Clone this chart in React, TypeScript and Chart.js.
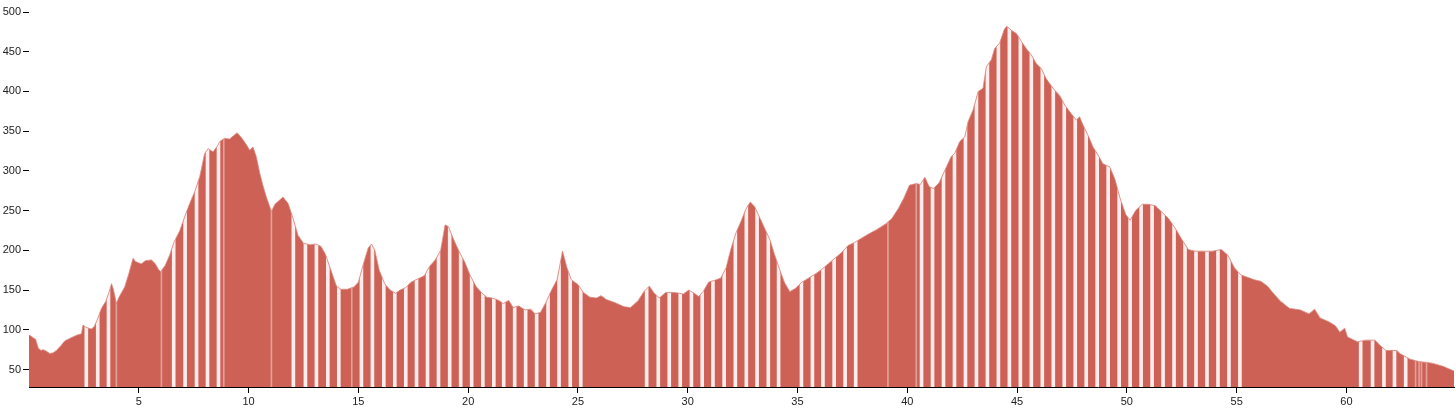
import React, { useEffect, useRef } from "react";
import { Chart, registerables } from "chart.js";

Chart.register(...registerables);

// Elevation profile (distance in km, elevation in m)
const distanceKm = [
  0.0, 0.1, 0.19, 0.3, 0.42, 0.55, 0.64, 0.8, 0.95, 1.1, 1.25, 1.45, 1.63, 1.85, 2.16, 2.39, 2.46, 2.6, 2.84, 2.97,
  3.1, 3.3, 3.5, 3.65, 3.76, 3.85, 3.98, 4.1, 4.36, 4.55, 4.74, 4.85, 5.0, 5.12, 5.3, 5.58, 5.75, 5.9, 5.99, 6.2,
  6.41, 6.6, 6.87, 7.1, 7.32, 7.55, 7.78, 8.0, 8.16, 8.38, 8.55, 8.69, 8.9, 9.14, 9.3, 9.48, 9.7, 9.9, 10.05, 10.2,
  10.35, 10.51, 10.65, 10.81, 11.04, 11.2, 11.4, 11.57, 11.8, 12.03, 12.25, 12.5, 12.8, 13.05, 13.3, 13.5, 13.75, 14.0, 14.2, 14.5,
  14.8, 15.0, 15.2, 15.45, 15.6, 15.75, 15.95, 16.2, 16.45, 16.7, 16.9, 17.15, 17.4, 17.7, 18.0, 18.25, 18.5, 18.75, 18.95, 19.1,
  19.35, 19.6, 19.85, 20.1, 20.35, 20.6, 20.85, 21.1, 21.4, 21.6, 21.85, 22.05, 22.3, 22.6, 22.85, 23.05, 23.3, 23.55, 23.8, 24.05,
  24.3, 24.5, 24.7, 25.0, 25.25, 25.55, 25.85, 26.05, 26.3, 26.7, 27.1, 27.4, 27.75, 28.0, 28.25, 28.45, 28.7, 29.0, 29.4, 29.8,
  30.05, 30.3, 30.5, 30.7, 30.95, 31.2, 31.5, 31.75, 31.95, 32.2, 32.45, 32.65, 32.85, 33.05, 33.3, 33.55, 33.75, 33.95, 34.2, 34.4,
  34.65, 34.9, 35.2, 35.5, 35.8, 36.1, 36.4, 36.7, 37.0, 37.3, 37.6, 37.9, 38.2, 38.6, 39.0, 39.3, 39.6, 39.85, 40.1, 40.4,
  40.6, 40.8, 41.0, 41.2, 41.45, 41.7, 42.0, 42.16, 42.39, 42.62, 42.77, 43.0, 43.23, 43.45, 43.6, 43.83, 43.98, 44.21, 44.43, 44.54,
  44.74, 44.97, 45.2, 45.42, 45.65, 45.88, 46.1, 46.33, 46.64, 46.94, 47.17, 47.47, 47.7, 47.85, 48.0, 48.23, 48.46, 48.69, 48.91, 49.22,
  49.45, 49.7, 49.95, 50.15, 50.4, 50.7, 51.0, 51.3, 51.6, 51.9, 52.2, 52.5, 52.8, 53.1, 53.5, 53.9, 54.3, 54.6, 54.9, 55.2,
  55.5, 55.8, 56.1, 56.4, 56.7, 57.0, 57.4, 57.9, 58.3, 58.55, 58.8, 59.2, 59.5, 59.7, 59.92, 60.05, 60.5, 60.9, 61.3, 61.55,
  61.8, 62.3, 62.45, 62.9, 63.3, 63.9, 64.4, 64.9,
];

const elevationM = [
  93, 92, 90, 88, 77, 74, 75, 73, 70, 71, 74, 80, 86, 89, 93, 95, 106, 103, 101, 104,
  112, 127, 136, 148, 158, 150, 133, 141, 154, 171, 190, 186, 184, 183, 187, 188, 183, 176, 173, 181,
  194, 210, 225, 243, 259, 274, 293, 322, 328, 324, 330, 337, 341, 340, 344, 348, 341, 333, 326, 330,
  318, 297, 282, 267, 249, 258, 263, 267, 259, 240, 219, 209, 207, 208, 205, 195, 175, 155, 151, 151,
  154, 160, 180, 203, 208, 200, 175, 158, 150, 146, 150, 153, 160, 164, 168, 180, 188, 200, 232, 230,
  213, 198, 185, 168, 155, 147, 141, 140, 137, 133, 137, 128, 130, 125, 126, 120, 122, 135, 150, 163,
  199, 178, 163, 157, 147, 141, 140, 143, 138, 134, 129, 128, 137, 148, 155, 147, 140, 147, 147, 145,
  150, 146, 142, 148, 160, 162, 165, 178, 200, 222, 238, 252, 261, 255, 240, 225, 213, 195, 175, 160,
  148, 152, 160, 165, 170, 176, 183, 190, 197, 206, 210, 215, 220, 226, 233, 240, 253, 266, 282, 284,
  283, 292, 280, 278, 285, 300, 318, 322, 337, 343, 362, 377, 400, 404, 431, 440, 454, 461, 479, 482,
  477, 473, 463, 454, 446, 435, 429, 416, 404, 395, 383, 372, 364, 368, 358, 345, 330, 320, 309, 305,
  290, 265, 245, 238, 250, 258, 258, 256, 248, 240, 228, 214, 201, 199, 199, 199, 201, 194, 178, 169,
  166, 163, 161, 155, 145, 136, 127, 125, 120, 126, 115, 110, 105, 97, 102, 91, 85, 87, 87, 80,
  74, 74, 70, 63, 60, 58, 54, 48,
];

// Positions (km) of the pale gaps between the bars
const stripeKm = [
  2.61, 3.13, 3.62, 6.59, 7.11, 7.63, 8.13, 8.63,
  12.04, 12.59, 13.09, 13.61, 14.11, 15.14, 15.64, 16.16, 16.66, 17.16, 17.65, 18.15, 18.65, 19.16, 19.66, 20.16,
  20.67, 21.17, 21.62, 22.12, 22.62, 23.12, 23.64, 24.14, 24.65, 25.13,
  28.13, 28.66, 29.16, 29.66, 30.17, 30.66, 31.15, 31.66, 32.17, 32.67, 33.16, 33.67, 34.14,
  35.18, 35.68, 36.16, 36.67, 37.17, 37.65,
  40.65, 41.15, 41.65, 42.15, 42.65, 43.15, 43.65, 44.15, 44.65, 45.15, 45.65, 46.15, 46.65, 47.15, 47.65,
  48.15, 48.65, 49.15, 49.65, 50.15, 50.65, 51.15, 51.65, 52.15, 52.65, 53.15, 53.65, 54.15, 54.65, 55.15,
  60.65, 61.19, 61.71, 62.19, 62.7,
];
const thinStripeKm = [3.98, 6.03, 8.87, 11.04, 14.7, 39.12, 40.41, 63.15, 63.31, 63.42, 63.65];

const xTicks = [5, 10, 15, 20, 25, 30, 35, 40, 45, 50, 55, 60];
const yTicks = [50, 100, 150, 200, 250, 300, 350, 400, 450, 500];

const X_MIN = 0;
const X_MAX = 64.9;
const Y_MIN = 28;
const Y_MAX = 500;

const RED = "#cd6155";
const PALE = "#fdedec";
const FONT = { family: "'Liberation Sans', Arial, sans-serif", size: 11 };

export default function App() {
  const ref = useRef<HTMLCanvasElement>(null);

  useEffect(() => {
    const profile = distanceKm.map((x, i) => ({ x, y: elevationM[i] }));
    const chart = new Chart(ref.current as HTMLCanvasElement, {
      type: "line",
      data: {
        datasets: [
          {
            type: "line",
            data: profile,
            fill: "start",
            backgroundColor: RED,
            borderColor: "rgba(0,0,0,0)",
            borderWidth: 0,
            pointRadius: 0,
            tension: 0,
            order: 4,
          },
          {
            type: "bar",
            data: stripeKm.map((x) => ({ x, y: Y_MAX })),
            backgroundColor: PALE,
            barThickness: 3,
            grouped: false,
            order: 3,
          },
          {
            type: "bar",
            data: thinStripeKm.map((x) => ({ x, y: Y_MAX })),
            backgroundColor: "rgba(253,237,236,0.45)",
            barThickness: 1,
            grouped: false,
            order: 2,
          },
          {
            type: "line",
            data: profile,
            fill: "end",
            backgroundColor: "#ffffff",
            borderColor: "#d77a70",
            borderWidth: 0.8,
            pointRadius: 0,
            tension: 0,
            order: 1,
          },
        ] as any,
      },
      options: {
        responsive: false,
        animation: false,
        events: [],
        layout: { padding: { top: 12, right: 2, left: 0, bottom: 0 } },
        plugins: { legend: { display: false }, tooltip: { enabled: false } },
        scales: {
          x: {
            type: "linear",
            min: X_MIN,
            max: X_MAX,
            offset: false,
            z: 1,
            afterBuildTicks: (s: any) => {
              s.ticks = xTicks.map((v) => ({ value: v }));
            },
            afterFit: (s: any) => {
              s.height = 26;
            },
            grid: { offset: false, drawOnChartArea: false, drawTicks: true, tickLength: 6, color: "#000", lineWidth: 1 },
            border: { display: true, color: "#000", width: 1 },
            ticks: { color: "#222", font: FONT, padding: 2, maxRotation: 0, autoSkip: false },
          },
          y: {
            type: "linear",
            min: Y_MIN,
            max: Y_MAX,
            z: 1,
            afterBuildTicks: (s: any) => {
              s.ticks = yTicks.map((v) => ({ value: v }));
            },
            afterFit: (s: any) => {
              s.width = 29;
            },
            grid: { offset: false, drawOnChartArea: false, drawTicks: true, tickLength: 6, color: "#000", lineWidth: 1 },
            border: { display: true, color: "#000", width: 1 },
            ticks: { color: "#222", font: FONT, padding: 2, autoSkip: false },
          },
        },
      } as any,
    });
    return () => chart.destroy();
  }, []);

  return (
    <div style={{ position: "fixed", left: 0, top: 0, width: 1456, height: 413, background: "#fff" }}>
      <canvas ref={ref} width={1456} height={413} style={{ display: "block" }} />
    </div>
  );
}
